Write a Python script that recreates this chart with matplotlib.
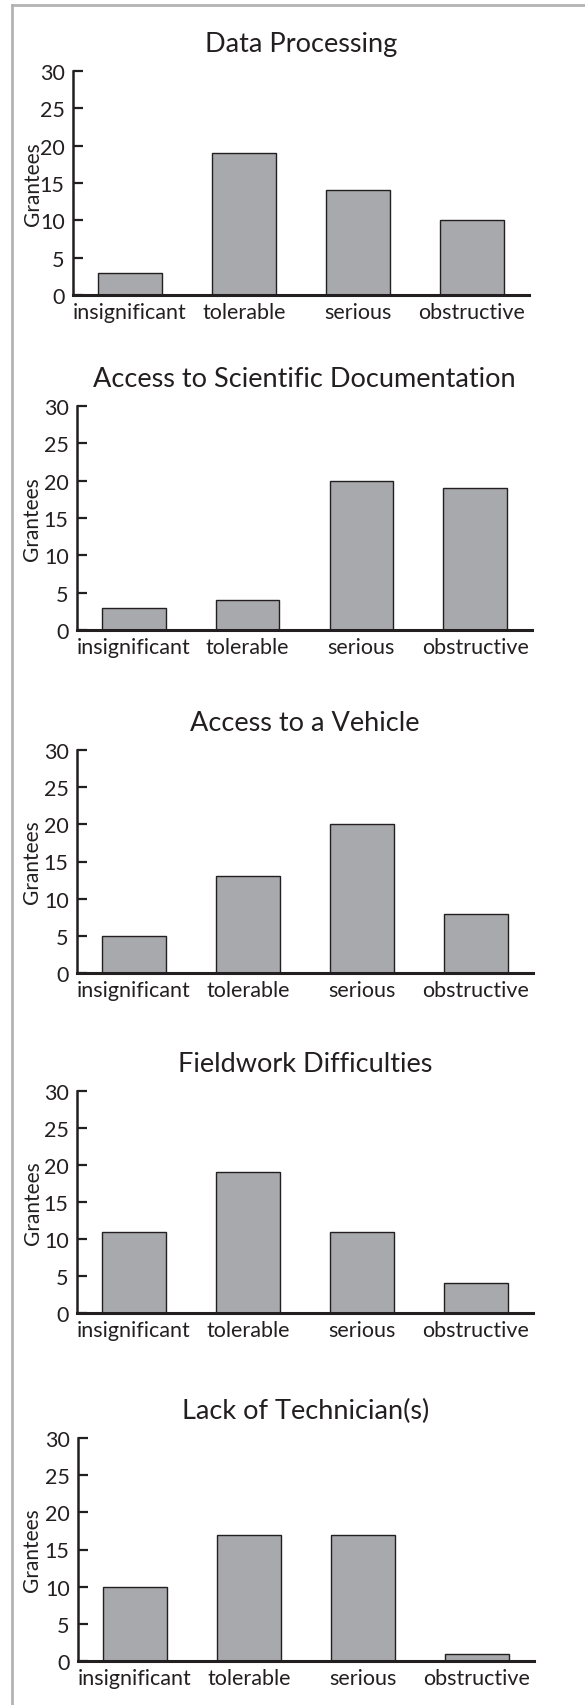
"""Five bar charts of grantee difficulty ratings, stacked vertically."""

import matplotlib
matplotlib.use("Agg")
import matplotlib.pyplot as plt
from matplotlib.lines import Line2D

plt.rcParams["font.family"] = ["Lato", "DejaVu Sans"]

categories = ["insignificant", "tolerable", "serious", "obstructive"]
titles = [
    "Data Processing",
    "Access to Scientific Documentation",
    "Access to a Vehicle",
    "Fieldwork Difficulties",
    "Lack of Technician(s)",
]
data_processing = [3, 19, 14, 10]
scientific_docs = [3, 4, 20, 19]
vehicle = [5, 13, 20, 8]
fieldwork = [11, 19, 11, 4]
technicians = [10, 17, 17, 1]
y_ticks = [0, 5, 10, 15, 20, 25, 30]

W, H = 585, 1706
INK = "#231f20"
BAR = "#a7a9ac"

# axes boxes in pixels: left, right, top, bottom ; ylabel offset from axis (px)
boxes = [
    (73, 529, 72, 296, 40),
    (77, 532, 407, 631, 45),
    (77, 533, 751, 974, 45),
    (77, 533, 1092, 1314, 44),
    (78, 534, 1439, 1662, 46),
]
series = [data_processing, scientific_docs, vehicle, fieldwork, technicians]

fig = plt.figure(figsize=(W / 100, H / 100), dpi=100)

# grey frame on top and left
fig.add_artist(Line2D([12 / W, 1], [1 - 6 / H, 1 - 6 / H], transform=fig.transFigure,
                      color="#b3b3b3", lw=2))
fig.add_artist(Line2D([12 / W, 12 / W], [0, 1 - 6 / H], transform=fig.transFigure,
                      color="#b3b3b3", lw=2))

for (l, r, t, b, lab_off), title, vals in zip(boxes, titles, series):
    ax = fig.add_axes([l / W, 1 - b / H, (r - l) / W, (b - t) / H])
    x = range(len(categories))
    ax.bar(x, vals, width=0.56, color=BAR, edgecolor=INK, linewidth=1.0, zorder=2)
    ax.set_xlim(-0.5, 3.5)
    ax.set_ylim(0, 30)
    ax.set_yticks(y_ticks)
    ax.set_xticks(list(x))
    ax.set_xticklabels(categories)
    for s in ("top", "right"):
        ax.spines[s].set_visible(False)
    ax.spines["bottom"].set_linewidth(2.2)
    ax.spines["left"].set_linewidth(1.8)
    ax.spines["bottom"].set_color(INK)
    ax.spines["left"].set_color(INK)
    ax.spines["bottom"].set_zorder(3)
    ax.tick_params(axis="y", direction="in", length=7, width=1.6, pad=6,
                   labelsize=15.5, colors=INK)
    ax.tick_params(axis="x", length=0, pad=5, labelsize=15.5, colors=INK)
    ax.set_title(title, fontsize=19.5, color=INK, pad=14.5)
    ax.set_ylabel("Grantees", fontsize=15, color=INK, va="center")
    ax.yaxis.set_label_coords(-lab_off / (r - l), 0.5)
    ax.patch.set_alpha(0)

fig.savefig("out.png", dpi=100)
